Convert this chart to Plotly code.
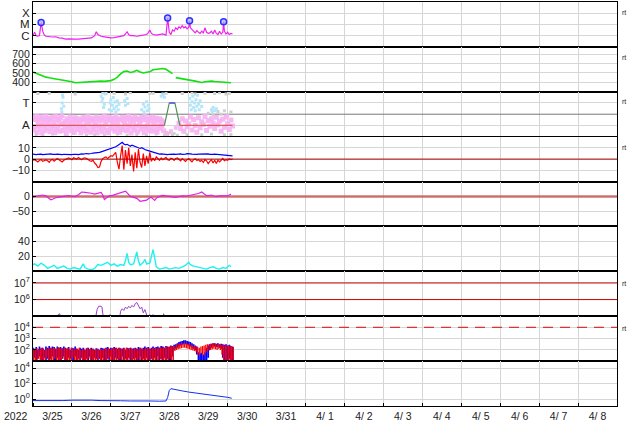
import numpy as np
import pandas as pd
import plotly.graph_objects as go
from plotly.subplots import make_subplots

BASE = pd.Timestamp("2022-03-25 00:00")
END = pd.Timestamp("2022-04-09 00:00")


def tt(hours):
    return [None if h is None else BASE + pd.Timedelta(hours=float(h)) for h in hours]


# ---------------- Panel 1: X-ray flux (log10 W/m2) ----------------
xray_h = [0, 1, 2, 3, 4, 5, 6, 7, 8, 10, 12, 14, 16, 18, 20, 22, 24, 26, 28, 30, 32, 34, 36, 38, 39, 40,
          42, 44, 46, 48, 50, 52, 54, 56, 57, 58, 59, 60, 62, 64, 66, 68, 70, 71, 72, 73, 74, 76, 78, 80,
          82, 83, 84, 85, 86, 87, 88, 89, 90, 91, 92, 93, 94, 95, 96, 96.5, 97, 98, 99, 100, 101, 102,
          103, 104, 105, 106, 107, 108, 109, 110, 111, 112, 113, 114, 115, 116, 117, 117.5, 118, 119,
          120, 121, 122, 123]
xray_log = [-5.95, -5.7, -6.0, -6.05, -6.0, -4.83, -5.6, -5.95, -6.05, -6.1, -6.12, -6.1, -6.2, -6.22,
            -6.3, -6.28, -6.32, -6.3, -6.3, -6.27, -6.3, -6.25, -6.2, -6.0, -5.65, -5.9, -6.05, -6.1,
            -6.15, -6.2, -6.18, -6.1, -6.05, -6.0, -5.85, -5.65, -5.9, -6.0, -6.0, -6.05, -6.0, -5.95,
            -5.9, -5.75, -5.5, -5.8, -5.9, -5.95, -5.9, -5.85, -5.95, -4.42, -5.7, -5.9, -5.5, -5.6,
            -5.3, -5.45, -5.2, -5.35, -5.1, -5.3, -5.2, -5.4, -5.25, -4.67, -5.3, -5.5, -5.6, -5.75,
            -5.55, -5.7, -5.8, -5.6, -5.75, -5.3, -5.7, -5.8, -5.75, -5.6, -5.85, -5.5, -5.8, -5.9,
            -5.6, -5.85, -5.7, -4.77, -5.6, -5.85, -5.7, -5.9, -5.8, -5.85]
flare_h = [5, 83, 96.5, 117.5]
flare_log = [-4.83, -4.42, -4.67, -4.77]

# ---------------- Panel 2: solar wind speed (km/s) ----------------
speed_h = [0, 2, 4, 6, 8, 10, 12, 14, 16, 18, 20, 22, 24, 26, 28, 30, 32, 34, 36, 38, 40, 42, 44, 46, 48,
           50, 52, 54, 56, 58, 60, 62, 64, 66, 68, 70, 72, 74, 76, 78, 80, 82, 84, 86, 87,
           88, 90, 92, 94, 96, 98, 100, 102, 104, 106, 108, 110, 112, 114, 116, 118, 120, 122]
speed_v = [510, 495, 478, 470, 455, 448, 445, 436, 430, 425, 418, 410, 405, 395, 398, 402, 400, 405, 408,
           406, 410, 412, 410, 415, 418, 432, 455, 490, 515, 520, 505, 512, 528, 510, 500, 508, 512, 535,
           540, 545, 548, 540, 520, 492, None,
           450, 445, 440, 430, 422, 418, 412, 405, 398, 405, 410, 412, 408, 406, 404, 400, 402, 395]

# ---------------- Panel 3: IMF sector (T / A) ----------------
sector_h = [0, 81, 84, 87.5, 90.5, 123]
sector_v = [0.25, 0.25, 0.75, 0.75, 0.25, 0.25]
pink_hi = [0.42, 0.38, 0.45, 0.35, 0.40, 0.44, 0.33, 0.39, 0.46, 0.36,
           0.41, 0.37, 0.43, 0.32, 0.45, 0.38, 0.35, 0.42, 0.47, 0.30,
           0.34, 0.40, 0.36, 0.44, 0.31, 0.38, 0.42, 0.35, 0.40, 0.33,
           0.37, 0.43, 0.39, 0.34, 0.45, 0.36, 0.41, 0.38, 0.32, 0.44,
           0.40, 0.35, 0.42, 0.37, 0.46, 0.33, 0.39, 0.43, 0.36, 0.41,
           0.38, 0.45, 0.34, 0.40, 0.37, 0.43, 0.35, 0.42, 0.39, 0.46,
           0.36, 0.41, 0.33, 0.44, 0.38, 0.40, 0.35, 0.43, 0.37, 0.45,
           0.39, 0.34, 0.42, 0.36, 0.44, 0.38, 0.41, 0.35, 0.40, 0.37, 0.33]
pink_lo = [0.15, 0.22, 0.10, 0.26, 0.18, 0.08, 0.24, 0.13, 0.20, 0.28,
           0.11, 0.19, 0.25, 0.09, 0.16, 0.23, 0.12, 0.27, 0.14, 0.21,
           0.07, 0.18, 0.25, 0.13, 0.20, 0.10, 0.26, 0.16, 0.22, 0.09,
           0.19, 0.24, 0.12, 0.17, 0.28, 0.10, 0.21, 0.15, 0.25, 0.08,
           0.18, 0.23, 0.11, 0.20, 0.26, 0.14, 0.09, 0.22, 0.17, 0.27,
           0.12, 0.19, 0.24, 0.10, 0.16, 0.21, 0.28, 0.13, 0.18, 0.25,
           0.08, 0.20, 0.15, 0.23, 0.11, 0.26, 0.17, 0.22, 0.09, 0.19,
           0.24, 0.14, 0.21, 0.12, 0.27, 0.16, 0.10, 0.23, 0.18, 0.25, 0.13]
pink_late = [0.30, 0.18, 0.40, 0.12, 0.35, 0.22, 0.28, 0.44, 0.15, 0.38,
             0.25, 0.10, 0.42, 0.20, 0.33, 0.27, 0.45, 0.14, 0.36, 0.23,
             0.40, 0.30, 0.18, 0.43, 0.26, 0.35, 0.12, 0.39, 0.21, 0.44,
             0.29, 0.16, 0.37, 0.24]
pink_gap_h = [82, 85, 88]
pink_gap_v = [0.08, 0.12, 0.20]
blue_pts_h = [17.5, 18, 18.5, 19, 18.2, 17.8, 42, 42.5, 43, 44, 44.5, 43.5,
              47, 47.5, 48, 48.5, 49, 49.5, 50, 50.5, 51, 51.5, 52, 52.5, 53,
              56.5, 57, 58, 58.5, 67, 68, 68.5, 69, 70, 70.5, 71, 71.5, 79, 80, 81,
              96.5, 97, 97.5, 98, 98.5, 99, 99.5, 100, 100.5, 101, 101.5, 102, 102.5, 103, 104,
              110, 110.5, 111, 112, 113]
blue_pts_v = [0.62, 0.75, 0.88, 0.68, 0.93, 0.55, 0.90, 0.78, 0.85, 0.72, 0.95, 0.65,
              0.60, 0.75, 0.82, 0.58, 0.70, 0.87, 0.63, 0.77, 0.55, 0.68, 0.80, 0.60, 0.72,
              0.80, 0.70, 0.85, 0.74, 0.60, 0.72, 0.55, 0.66, 0.78, 0.58, 0.70, 0.62, 0.90, 0.95, 0.88,
              0.85, 0.70, 0.60, 0.78, 0.90, 0.65, 0.75, 0.58, 0.82, 0.68, 0.92, 0.72, 0.60, 0.80, 0.67,
              0.60, 0.55, 0.65, 0.58, 0.62]
gray_pts_h = [3, 10, 26, 43, 45, 50, 57, 60, 72, 74, 80, 82, 92, 98, 100, 106, 112, 115, 119, 121,
              2, 6, 12, 20, 25, 33, 38, 44, 52, 58, 64, 70, 76, 81, 82, 83, 84, 86, 87, 89, 95, 104,
              110, 118, 122, 108, 111, 114, 116, 118, 120, 122]
gray_pts_v = [0.96, 0.97, 0.95, 0.98, 0.96, 0.97, 0.95, 0.98, 0.96, 0.97, 0.94, 0.97, 0.96, 0.98,
              0.95, 0.97, 0.96, 0.98, 0.95, 0.97,
              0.05, 0.03, 0.06, 0.04, 0.07, 0.03, 0.05, 0.04, 0.06, 0.03, 0.05, 0.04, 0.06, 0.03,
              0.10, 0.05, 0.08, 0.04, 0.07, 0.03, 0.05, 0.04, 0.06, 0.04, 0.05,
              0.52, 0.48, 0.56, 0.50, 0.58, 0.47, 0.55]

# ---------------- Panel 4: IMF Bt / Bz (nT), hourly ----------------
bt = [4.5, 4.2, 4.0, 4.3, 4.5, 4.4, 4.0, 4.2, 4.5, 4.3, 4.4,
      4.6, 4.2, 4.0, 4.3, 4.5, 4.2, 4.1, 4.0, 4.3, 4.2,
      4.0, 4.2, 3.8, 4.0, 4.3, 4.5, 4.2, 4.0, 4.4, 4.6,
      4.5, 4.8, 5.0, 4.7, 5.2, 5.0, 5.3, 5.5, 5.2, 5.8,
      6.0, 6.5, 7.0, 7.2, 7.8, 8.0, 8.5, 9.0, 9.5, 10.2,
      11.0, 12.0, 13.0, 14.5, 15.0, 13.5, 12.8, 13.2, 12.0, 11.5,
      12.5, 11.8, 11.0, 10.5, 10.0, 9.5, 10.2, 9.0, 8.5, 8.0,
      7.5, 7.0, 6.8, 6.0, 5.5, 5.0, 4.8, 4.5, 4.6, 4.3,
      4.5, 4.2, 4.0, 4.3, 4.5, 4.6, 4.4, 4.2, 4.5, 4.8,
      4.6, 4.3, 4.2, 4.5, 4.8, 5.0, 4.6, 4.4, 4.2, 4.0,
      4.3, 4.5, 4.6, 4.4, 4.2, 4.5, 4.8, 4.6, 4.3, 4.1,
      4.2, 4.5, 4.3, 4.0, 3.8, 4.0, 3.7, 3.5, 3.6, 3.3,
      3.2, 3.0, 2.8]
bz = [-1.0, -0.5, -1.5, -2.5, -1.0, -0.5, -2.0, -1.2, -0.8, -1.5, -2.8,
      -1.0, -0.3, -1.8, -1.0, 0.5, -0.5, -1.5, -2.5, -1.0, -0.2,
      0.5, 1.0, 0.3, -0.5, 1.2, 0.8, 0.0, 1.5, 0.5, -0.5,
      0.8, 1.2, 0.5, -0.8, -1.5, -2.0, -1.0, -3.5, -5.0, -7.5,
      -7.0, -2.0, 0.5, 1.5, 2.0, 0.5, 1.8, 3.0, 2.5, 4.0,
      6.0, -3.0, -9.0, 3.0, 12.0, -9.5, 8.0, -4.0, 10.0, -6.0,
      4.0, -11.0, 6.0, -8.0, 9.0, -3.0, -7.5, 5.0, -6.0, 3.0,
      -4.0, 6.0, -2.0, 1.0, -1.5, 2.0, 0.5, -1.0, 1.0, -0.5,
      0.5, 1.5, -0.5, -1.0, 0.8, 0.3, -1.2, 0.5, 1.0, -0.5,
      -1.5, 0.5, -0.8, -2.0, -0.5, 0.5, -1.0, -2.5, -0.5, 0.3,
      -1.2, -0.5, -2.0, -1.0, -3.0, -0.5, -1.5, -4.0, -2.0, -0.5,
      -3.5, -1.0, -4.0, -0.8, -2.5, -1.0, 0.5, -1.5, -0.5, -1.0,
      0.3, -0.5, 0.2]
imf_h = list(range(len(bt)))

# ---------------- Panel 5: Dst (nT) ----------------
dst_h = [0, 2, 4, 6, 8, 10, 11, 12, 14, 16, 18, 20, 22, 24, 26, 28, 30, 32, 34, 36, 38, 40, 42, 43, 44,
         45, 47, 49, 51, 53, 55, 57, 58, 60, 62, 64, 66, 67, 68, 70, 72, 73, 74, 75, 76, 77, 79, 80, 82,
         84, 86, 88, 90, 92, 94, 96, 98, 100, 102, 104, 105, 107, 109, 110, 112, 113, 115, 117, 119,
         121, 122]
dst_v = [-1, 1, 3, 5, 2, -8, -11, -9, -4, -2, 0, 2, 3, 1, 0, 6, 15, 14, 13, 11, 8, 10, 14, 5, -10,
         -6, 2, 4, 8, 10, 14, 18, 12, 0, -3, -6, -16, -15, -13, -12, -4, -3, -8, -13, -6, -2, 2, 4, 2,
         0, -1, -3, 0, 2, 1, 3, 5, 6, 10, 15, 10, 3, 4, 5, 1, 0, 2, 1, 2, 5, 8]

# ---------------- Panel 6: proton density ----------------
dens_h = [0, 1, 3, 5, 7, 9, 11, 13, 15, 17, 19, 21, 23, 25, 27, 29, 31, 32, 34, 36, 38, 40, 42, 44, 46,
          48, 50, 52, 54, 56, 57, 58, 59, 60, 62, 63, 64, 65, 66, 67, 68, 69, 70, 72, 73, 74, 75, 76,
          78, 80, 82, 84, 86, 88, 90, 92, 94, 96, 97, 99, 101, 103, 105, 107, 109, 111, 113, 115, 117,
          119, 121, 122]
dens_v = [9, 10, 7, 11, 8, 4, 6, 8, 4, 5, 7, 4, 3, 5, 4, 3, 10, 5, 3, 2, 4, 9, 8, 10, 12,
          8, 10, 7, 9, 8, 14, 24, 12, 9, 10, 18, 26, 14, 8, 10, 12, 16, 10, 11, 20, 29, 18, 6,
          3, 4, 5, 3, 4, 5, 4, 6, 8, 12, 9, 7, 6, 5, 4, 3, 5, 6, 4, 3, 5, 4, 8, 6]

# ---------------- Panel 7: electron flux (log10) ----------------
elec_h = [0, 14, 15.5, 16.5, 17.5, 24, 24.5, 25, 38, 39.5, 40.5, 42, 42.5, 43.5, 46, 47.5, 48.5, 53,
          54, 55, 56, 57, 58, 59, 60, 61, 62, 63, 64, 65, 66, 67, 68, 69, 70, 71, 72, 73, 74, 75, 80,
          80.5, 81.5, 90, 110, 111, 112, 123]
elec_log = [4.6, 4.6, 5.1, 5.15, 4.6, 4.6, 5.05, 4.6, 4.6, 5.4, 5.6, 5.6, 5.55, 4.8, 4.6, 5.1, 4.6, 4.6,
            5.3, 5.45, 5.35, 5.55, 5.45, 5.6, 5.5, 5.65, 5.55, 5.75, 5.82, 5.6, 5.45, 5.55, 5.2, 5.4,
            5.1, 4.8, 5.1, 4.9, 5.1, 4.8, 4.8, 5.15, 4.8, 4.6, 4.6, 5.05, 4.6, 4.6]

# ---------------- Panel 8: particle flux (log10), hourly min / max ----------------
p8_blue_hi = [2.2, 2.1, 2.25, 2.0, 2.3, 2.15, 2.2, 2.0, 2.3, 2.2,
              2.35, 2.2, 2.3, 2.25, 2.1, 2.3, 2.2, 2.25, 2.15, 2.3,
              2.2, 2.1, 2.25, 2.0, 2.2, 2.15, 2.3, 2.1, 2.0, 2.2,
              2.1, 2.2, 2.0, 2.15, 2.2, 2.05, 2.2, 2.1, 2.0, 2.15,
              2.1, 2.0, 2.2, 2.15, 2.1, 2.2, 2.25, 2.1, 2.2, 2.15,
              2.25, 2.2, 2.1, 2.2, 2.15, 2.1, 2.2, 2.0, 2.2, 2.15,
              2.2, 2.1, 2.15, 2.2, 2.1, 2.25, 2.2, 2.1, 2.2, 2.3,
              2.2, 2.25, 2.1, 2.2, 2.3, 2.2, 2.25, 2.3, 2.2, 2.35,
              2.3, 2.2, 2.35, 2.3, 2.25, 2.4, 2.35, 2.45, 2.5, 2.6,
              2.7, 2.75, 2.8, 2.85, 2.85, 2.8, 2.75, 2.7, 2.6, 2.5,
              2.4, 2.3, 1.8, 1.7, 1.75, 1.6, 1.8, 2.2, 2.4, 2.5,
              2.55, 2.6, 2.6, 2.55, 2.6, 2.5, 2.55, 2.5, 2.45, 2.5,
              2.4, 2.45, 2.35, 2.3]
p8_blue_lo = [1.1, 1.3, 1.0, 1.2, 1.4, 1.0, 1.1, 1.3, 1.0, 1.2,
              1.0, 1.2, 1.4, 1.1, 1.0, 1.3, 1.1, 1.0, 1.2, 1.4,
              1.1, 1.0, 1.3, 1.2, 1.0, 1.1, 1.4, 1.0, 1.2, 1.1,
              1.3, 1.0, 1.1, 1.2, 1.0, 1.4, 1.1, 1.0, 1.3, 1.2,
              1.0, 1.2, 1.1, 1.3, 1.0, 1.1, 1.2, 1.0, 1.4, 1.1,
              1.0, 1.3, 1.2, 1.0, 1.1, 1.4, 1.0, 1.2, 1.1, 1.3,
              1.1, 1.0, 1.2, 1.3, 1.0, 1.1, 1.4, 1.0, 1.2, 1.1,
              1.3, 1.0, 1.1, 1.2, 1.0, 1.3, 1.1, 1.4, 1.0, 1.2,
              1.1, 1.3, 1.0, 1.2, 1.1, 1.0, 1.4, 2.0, 2.1, 2.2,
              2.3, 2.4, 2.45, 2.5, 2.5, 2.45, 2.4, 2.3, 2.2, 2.1,
              2.0, 1.6, 1.0, 1.0, 1.0, 1.0, 1.0, 1.1, 1.3, 2.0,
              2.2, 2.3, 2.3, 2.25, 2.3, 2.2, 2.1, 1.3, 1.0, 1.1,
              1.0, 1.2, 1.0, 1.1]
p8_red_hi = [2.1, 2.0, 2.15, 2.1, 2.05, 2.2, 2.1, 2.0, 2.15, 2.1,
             2.2, 2.1, 2.2, 2.15, 2.1, 2.25, 2.2, 2.1, 2.15, 2.2,
             2.1, 2.2, 2.05, 2.2, 2.1, 2.0, 2.15, 2.1, 2.2, 2.0,
             2.05, 2.1, 2.0, 2.2, 2.1, 2.15, 2.05, 2.1, 2.0, 2.1,
             2.0, 2.1, 2.05, 2.0, 2.15, 2.1, 2.2, 2.05, 2.1, 2.2,
             2.15, 2.2, 2.1, 2.2, 2.05, 2.15, 2.1, 2.2, 2.15, 2.1,
             2.2, 2.05, 2.1, 2.15, 2.0, 2.1, 2.2, 2.1, 2.05, 2.2,
             2.1, 2.2, 2.05, 2.15, 2.2, 2.1, 2.2, 2.15, 2.25, 2.2,
             2.25, 2.2, 2.3, 2.25, 2.35, 2.3, 2.35, 2.4, 2.45, 2.5,
             2.55, 2.6, 2.6, 2.62, 2.6, 2.55, 2.5, 2.45, 2.4, 2.35,
             2.3, 2.25, 2.2, 2.3, 2.35, 2.4, 2.45, 2.5, 2.5, 2.55,
             2.55, 2.6, 2.55, 2.5, 2.55, 2.5, 2.45, 2.4, 2.45, 2.4,
             2.35, 2.4, 2.3, 2.25]
p8_red_lo = [1.0, 1.1, 1.0, 1.2, 1.0, 1.0, 1.1, 1.0, 1.3, 1.0,
             1.1, 1.0, 1.0, 1.2, 1.0, 1.1, 1.0, 1.0, 1.2, 1.0,
             1.0, 1.1, 1.0, 1.0, 1.3, 1.0, 1.1, 1.0, 1.0, 1.2,
             1.0, 1.0, 1.1, 1.0, 1.2, 1.0, 1.0, 1.1, 1.0, 1.0,
             1.2, 1.0, 1.0, 1.1, 1.0, 1.0, 1.3, 1.0, 1.1, 1.0,
             1.0, 1.1, 1.0, 1.2, 1.0, 1.0, 1.1, 1.0, 1.0, 1.2,
             1.0, 1.1, 1.0, 1.0, 1.2, 1.0, 1.0, 1.1, 1.0, 1.0,
             1.1, 1.0, 1.2, 1.0, 1.0, 1.1, 1.0, 1.0, 1.2, 1.0,
             1.0, 1.1, 1.0, 1.0, 1.2, 1.0, 1.1, 1.9, 2.0, 2.05,
             2.1, 2.15, 2.2, 2.2, 2.15, 2.1, 2.05, 2.0, 1.95, 1.9,
             1.85, 1.6, 1.5, 1.7, 1.6, 1.5, 1.8, 1.9, 1.95, 2.0,
             2.05, 2.1, 2.05, 2.0, 2.1, 2.0, 1.6, 1.0, 1.1, 1.0,
             1.0, 1.1, 1.0, 1.0]

# ---------------- Panel 9: proton flux (log10) ----------------
p9_h = [0, 6, 12, 18, 24, 30, 36, 42, 48, 54, 60, 66, 72, 78, 82, 83, 84, 85, 88, 92, 96, 100, 104,
        108, 112, 116, 120, 122.5]
p9_log = [-0.2, -0.22, -0.18, -0.2, -0.15, -0.12, -0.15, -0.2, -0.18, -0.22, -0.25, -0.22, -0.25,
          -0.28, -0.25, 0.2, 1.1, 1.34, 1.25, 1.05, 0.9, 0.8, 0.7, 0.6, 0.5, 0.4, 0.22, 0.1]


def p10(vals):
    return [None if v is None else 10 ** v for v in vals]


def minmax_segments(offset, lo, hi):
    xs, ys = [], []
    for i, (a, b) in enumerate(zip(lo, hi)):
        xs += [i + offset, i + offset, None]
        ys += [10 ** a, 10 ** b, None]
    return tt(xs), ys


fig = make_subplots(rows=9, cols=1, shared_xaxes=True, vertical_spacing=0)
full_x = [BASE, END]


def hline(row, yv, color, width=1.0, dash="solid"):
    fig.add_trace(go.Scatter(x=full_x, y=[yv, yv], mode="lines",
                             line=dict(color=color, width=width, dash=dash),
                             hoverinfo="skip"), row=row, col=1)


# Panel 1
fig.add_trace(go.Scatter(x=tt(xray_h), y=p10(xray_log), mode="lines",
                         line=dict(color="#f020f0", width=1.2)), row=1, col=1)
fig.add_trace(go.Scatter(x=tt(flare_h), y=p10(flare_log), mode="markers",
                         marker=dict(size=6, color="rgba(170,170,255,0.7)",
                                     line=dict(color="#3030ff", width=1.5))), row=1, col=1)

# Panel 2
fig.add_trace(go.Scatter(x=tt(speed_h), y=speed_v, mode="lines",
                         line=dict(color="#11e011", width=1.6)), row=2, col=1)

# Panel 3
hline(3, 0.5, "#777777", 1)
PINK = "rgba(246,176,242,0.9)"
fig.add_trace(go.Scatter(x=tt(gray_pts_h), y=gray_pts_v, mode="markers",
                         marker=dict(symbol="square", size=3, color="#cfcfcf")), row=3, col=1)
fig.add_trace(go.Scatter(x=tt(range(len(pink_hi))), y=pink_hi, mode="markers",
                         marker=dict(symbol="square", size=5, color=PINK)), row=3, col=1)
fig.add_trace(go.Scatter(x=tt([h + 0.5 for h in range(len(pink_lo))]), y=pink_lo, mode="markers",
                         marker=dict(symbol="square", size=5, color=PINK)), row=3, col=1)
fig.add_trace(go.Scatter(x=tt([90 + h for h in range(len(pink_late))]), y=pink_late, mode="markers",
                         marker=dict(symbol="square", size=5, color=PINK)), row=3, col=1)
fig.add_trace(go.Scatter(x=tt(pink_gap_h), y=pink_gap_v, mode="markers",
                         marker=dict(symbol="square", size=4, color=PINK)), row=3, col=1)
fig.add_trace(go.Scatter(x=tt(blue_pts_h), y=blue_pts_v, mode="markers",
                         marker=dict(symbol="square", size=3, color="#b4e6fa")), row=3, col=1)
fig.add_trace(go.Scatter(x=tt(sector_h[:2]), y=sector_v[:2], mode="lines",
                         line=dict(color="#e05555", width=1.2)), row=3, col=1)
fig.add_trace(go.Scatter(x=tt(sector_h[4:]), y=sector_v[4:], mode="lines",
                         line=dict(color="#e05555", width=1.2)), row=3, col=1)
fig.add_trace(go.Scatter(x=tt(sector_h[1:5]), y=sector_v[1:5], mode="lines",
                         line=dict(color="#4f8f4f", width=1.2)), row=3, col=1)
fig.add_trace(go.Scatter(x=tt(sector_h[2:4]), y=sector_v[2:4], mode="lines",
                         line=dict(color="#5555ff", width=1.5)), row=3, col=1)

# Panel 4
fig.add_trace(go.Scatter(x=tt(imf_h), y=bt, mode="lines",
                         line=dict(color="#0000ff", width=1.2)), row=4, col=1)
fig.add_trace(go.Scatter(x=tt(imf_h), y=bz, mode="lines",
                         line=dict(color="#ff0000", width=1.2)), row=4, col=1)
hline(4, 0, "#aa0000", 1)

# Panel 5
hline(5, 0, "rgba(200,90,90,0.85)", 2.5)
fig.add_trace(go.Scatter(x=tt(dst_h), y=dst_v, mode="lines",
                         line=dict(color="#e020e0", width=1.2)), row=5, col=1)

# Panel 6
fig.add_trace(go.Scatter(x=tt(dens_h), y=dens_v, mode="lines",
                         line=dict(color="#1ff0f0", width=1.4)), row=6, col=1)

# Panel 7
hline(7, 1e7, "#cc0000", 1)
hline(7, 1e6, "#cc0000", 1)
fig.add_trace(go.Scatter(x=tt(elec_h), y=p10(elec_log), mode="lines",
                         line=dict(color="#9a3fd0", width=1)), row=7, col=1)

# Panel 8
hline(8, 1e4, "#dd3333", 1.2, "10px,7px")
bx, by = minmax_segments(0, p8_blue_lo, p8_blue_hi)
fig.add_trace(go.Scatter(x=bx, y=by, mode="lines", line=dict(color="#0000ff", width=1.7)), row=8, col=1)
rx, ry = minmax_segments(0.5, p8_red_lo, p8_red_hi)
fig.add_trace(go.Scatter(x=rx, y=ry, mode="lines", line=dict(color="#ff0000", width=1.3)), row=8, col=1)

# Panel 9
fig.add_trace(go.Scatter(x=tt(p9_h), y=p10(p9_log), mode="lines",
                         line=dict(color="#1030ee", width=1)), row=9, col=1)

FONT = dict(family="Liberation Sans, Arial, sans-serif", size=10.5, color="#222222")
GRID = "#d6d6d6"

yspecs = [
    dict(type="log", range=[-7, -3], tickvals=[1e-6, 1e-5, 1e-4], ticktext=["C", "M", "X"],
         tickfont=dict(family="Liberation Sans, Arial, sans-serif", size=11.5, color="#222222")),
    dict(range=[298, 780], tickvals=[400, 500, 600, 700]),
    dict(range=[0, 1], tickvals=[0.25, 0.75], ticktext=["A", "T"],
         tickfont=dict(family="Liberation Sans, Arial, sans-serif", size=11.5, color="#222222")),
    dict(range=[-20, 20], tickvals=[-10, 0, 10]),
    dict(range=[-100, 50], tickvals=[-50, 0]),
    dict(range=[0, 60], tickvals=[20, 40]),
    dict(type="log", range=[5, 7.7], tickvals=[1e6, 1e7],
         ticktext=["10<sup>6</sup>", "10<sup>7</sup>"]),
    dict(type="log", range=[1, 5], tickvals=[1e2, 1e3, 1e4],
         ticktext=["10<sup>2</sup>", "10<sup>3</sup>", "10<sup>4</sup>"]),
    dict(type="log", range=[-0.9, 4.9], tickvals=[1, 1e2, 1e4],
         ticktext=["10<sup>0</sup>", "10<sup>2</sup>", "10<sup>4</sup>"]),
]

for i, spec in enumerate(yspecs, start=1):
    spec = dict(spec)
    tf = spec.pop("tickfont", FONT)
    fig.update_yaxes(row=i, col=1, showgrid=True, gridcolor=GRID, gridwidth=1, zeroline=False,
                     showline=True, linecolor="black", linewidth=1.2, mirror=True,
                     ticks="inside", ticklen=3, tickcolor="black", tickfont=tf,
                     tickmode="array", fixedrange=True, automargin=False, **spec)
    fig.update_xaxes(row=i, col=1, type="date", range=[BASE, END], showgrid=True, gridcolor=GRID,
                     dtick=86400000, tick0=BASE, zeroline=False, showline=True, linecolor="black",
                     linewidth=1.3, mirror=True, automargin=False)

fig.update_xaxes(row=9, col=1, ticklabelmode="period", tickformat="%-m/%e", tickfont=FONT,
                 ticks="inside", ticklen=3, tickcolor="black")

annots = [dict(text="2022", x=-0.029, y=-0.025, xref="paper", yref="paper", showarrow=False,
               xanchor="center", yanchor="middle", font=FONT)]
for ypix in [12, 57, 101, 147, 283, 328]:
    annots.append(dict(text="rt", x=1.012, y=(406 - ypix) / 404, xref="paper", yref="paper",
                       showarrow=False, xanchor="center", yanchor="middle",
                       font=dict(family="Liberation Sans, Arial, sans-serif", size=7, color="#222")))

fig.update_layout(width=634, height=424, margin=dict(l=33, r=17, t=2, b=18, autoexpand=False),
                  plot_bgcolor="white", paper_bgcolor="white", showlegend=False,
                  annotations=annots)

fig.write_html("out.html", config={"displayModeBar": False},
               post_script="document.body.style.margin='0px';document.body.style.padding='0px';")
